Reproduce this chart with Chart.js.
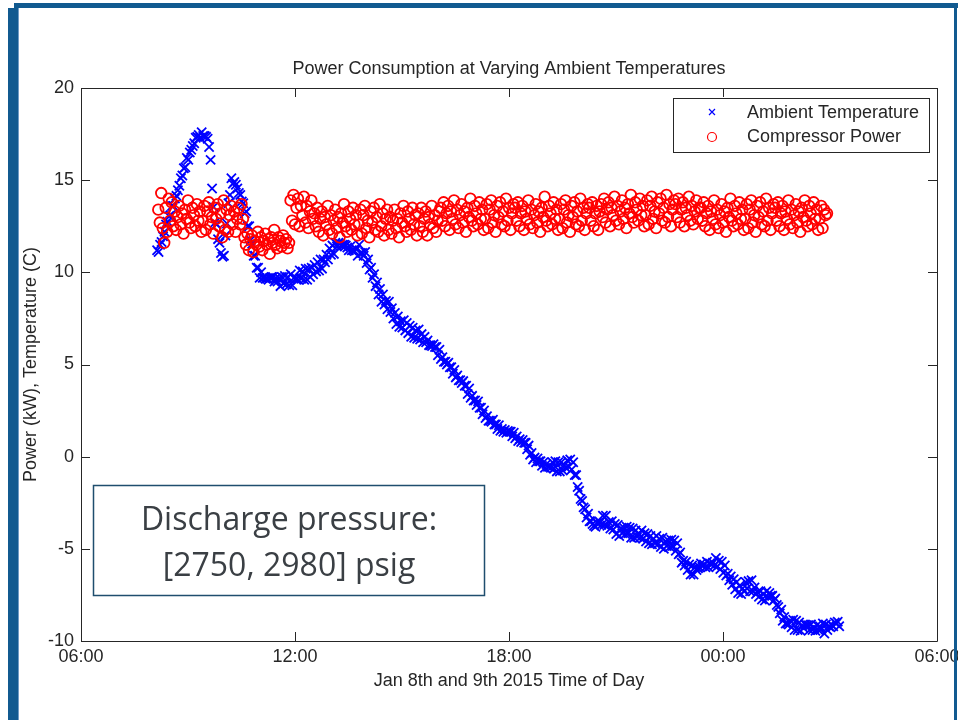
<!DOCTYPE html>
<html lang="en">
<head>
<meta charset="UTF-8">
<title>Power Consumption at Varying Ambient Temperatures</title>
<script src="https://cdn.jsdelivr.net/npm/chart.js@4.4.1/dist/chart.umd.min.js"></script>
<style>
    body { margin: 0; background: #fff; }
    #wrap { width: 958px; height: 720px; }
</style>
</head>
<body>
<div id="wrap"><canvas id="powerChart" width="958" height="720"></canvas></div>
<script>
// Ambient temperature (C), a reading every 2.5 min starting 08:08 on Jan 8th
const ambientStart = 8 + 8 / 60;
const ambientStepMin = 2.5;
const ambientTemp = [
    11.2, 11.1, 11.5, 11.65, 11.95, 12.2, 12.6, 12.75, 13.05, 13.1,
    13.6, 13.6, 14.0, 14.15, 14.45, 14.7, 15.1, 15.25, 15.65, 15.7,
    16.2, 16.1, 16.5, 16.65, 16.85, 17.0, 17.3, 17.35, 17.45, 17.3,
    17.6, 17.4, 17.4, 17.35, 17.25, 16.8, 16.1, 14.55, 13.55, 12.7,
    12.6, 11.8, 11.6, 11.05, 10.85, 10.9, 12.0, 12.65, 13.75, 14.2,
    15.1, 14.8, 14.9, 14.75, 14.55, 14.3, 14.2, 13.85, 13.75, 13.2,
    13.3, 12.5, 12.5, 11.75, 11.55, 10.9, 10.9, 10.25, 10.25, 9.7,
    10.0, 9.7, 9.7, 9.65, 9.65, 9.6, 9.7, 9.75, 9.75, 9.5,
    9.7, 9.5, 9.7, 9.25, 9.75, 9.4, 9.8, 9.35, 9.75, 9.3,
    9.9, 9.3, 9.7, 9.65, 9.65, 9.6, 10.1, 9.65, 10.05, 9.6,
    10.2, 9.6, 10.2, 9.75, 10.25, 9.9, 10.4, 10.05, 10.55, 10.1,
    10.7, 10.2, 10.7, 10.55, 10.95, 10.7, 11.3, 10.95, 11.45, 11.0,
    11.6, 11.4, 11.6, 11.55, 11.45, 11.5, 11.5, 11.45, 11.35, 11.2,
    11.4, 11.2, 11.2, 11.15, 11.25, 10.9, 11.5, 11.05, 11.05, 10.9,
    11.1, 10.5, 10.7, 10.15, 10.25, 9.7, 9.9, 9.25, 9.45, 8.8,
    9.1, 8.4, 8.8, 8.25, 8.45, 8.0, 8.4, 7.85, 8.05, 7.5,
    7.8, 7.2, 7.6, 7.05, 7.35, 7.0, 7.4, 6.85, 7.25, 6.7,
    7.1, 6.5, 7.0, 6.45, 6.85, 6.4, 6.9, 6.35, 6.65, 6.2,
    6.5, 6.2, 6.3, 6.05, 6.05, 6.0, 6.1, 5.95, 5.95, 5.5,
    5.8, 5.3, 5.4, 5.15, 5.15, 5.0, 5.1, 4.85, 4.85, 4.5,
    4.7, 4.3, 4.4, 4.15, 4.15, 4.0, 4.1, 3.85, 3.85, 3.4,
    3.7, 3.2, 3.3, 3.05, 3.05, 2.8, 3.0, 2.65, 2.65, 2.3,
    2.5, 2.1, 2.2, 1.95, 1.95, 1.9, 2.0, 1.75, 1.75, 1.5,
    1.7, 1.4, 1.5, 1.35, 1.45, 1.3, 1.4, 1.35, 1.35, 1.1,
    1.3, 1.0, 1.1, 0.85, 0.95, 0.8, 0.9, 0.75, 0.75, 0.4,
    0.6, 0.1, 0.2, -0.15, -0.05, -0.3, -0.1, -0.25, -0.25, -0.5,
    -0.3, -0.6, -0.4, -0.55, -0.55, -0.6, -0.3, -0.65, -0.25, -0.8,
    -0.3, -0.8, -0.3, -0.75, -0.45, -0.6, -0.2, -0.55, -0.15, -0.7,
    -0.3, -1.0, -1.0, -1.65, -1.85, -2.3, -2.4, -2.75, -2.85, -3.3,
    -3.1, -3.5, -3.5, -3.65, -3.75, -3.8, -3.6, -3.65, -3.55, -3.7,
    -3.2, -3.7, -3.2, -3.75, -3.55, -3.9, -3.5, -3.95, -3.65, -4.2,
    -3.7, -4.3, -3.9, -4.15, -3.85, -4.2, -3.8, -4.15, -3.85, -4.4,
    -3.9, -4.4, -4.0, -4.35, -4.15, -4.4, -4.0, -4.45, -4.15, -4.6,
    -4.2, -4.7, -4.3, -4.75, -4.45, -4.7, -4.3, -4.75, -4.45, -4.9,
    -4.4, -5.0, -4.6, -4.85, -4.55, -4.9, -4.5, -4.85, -4.55, -5.1,
    -4.7, -5.3, -5.2, -5.75, -5.65, -5.9, -5.7, -6.15, -5.85, -6.4,
    -5.9, -6.4, -6.0, -6.15, -6.05, -6.0, -5.8, -5.95, -5.85, -6.0,
    -5.7, -6.0, -5.8, -5.85, -5.75, -5.9, -5.5, -5.95, -5.65, -6.1,
    -5.7, -6.3, -5.9, -6.45, -6.35, -6.7, -6.5, -6.95, -6.65, -7.2,
    -6.8, -7.4, -7.0, -7.45, -7.15, -7.3, -6.8, -7.15, -6.75, -7.3,
    -6.7, -7.3, -7.1, -7.45, -7.35, -7.6, -7.3, -7.75, -7.45, -7.8,
    -7.3, -7.6, -7.4, -7.55, -7.55, -7.8, -7.7, -8.05, -8.15, -8.5,
    -8.3, -8.9, -8.7, -9.05, -9.05, -9.1, -8.9, -9.25, -8.85, -9.4,
    -8.9, -9.4, -9.0, -9.45, -9.15, -9.3, -9.1, -9.15, -9.15, -9.4,
    -9.1, -9.4, -9.3, -9.45, -9.15, -9.4, -9.2, -9.35, -9.05, -9.6,
    -9.1, -9.4, -9.2, -9.25, -9.15, -9.2, -9.0, -9.05, -8.95, -9.2
];

// Compressor power (kW), a reading every 2.5 min starting 08:10
const powerStart = 8 + 10 / 60;
const powerStepMin = 2.5;
const compressorPower = [
    13.4, 12.7, 14.3, 12.4, 11.6, 13.5, 12.2, 14.0, 12.8, 13.8,
    12.5, 13.3, 12.3, 13.0, 13.6, 12.6, 13.2, 12.1, 13.4, 12.9,
    13.9, 12.7, 12.4, 13.5, 13.1, 12.5, 13.7, 12.8, 13.3, 12.2,
    12.8, 13.6, 12.3, 13.3, 13.8, 12.6, 13.0, 12.1, 13.5, 12.9,
    13.7, 12.5, 13.2, 11.9, 13.9, 12.3, 13.4, 12.2, 13.1, 13.6,
    12.6, 13.3, 12.2, 12.9, 13.5, 12.6, 13.7, 12.9,
    11.9, 11.5, 12.1, 11.2, 11.8, 12.0, 11.1, 11.7, 11.5, 12.2,
    11.4, 11.9, 11.2, 11.7, 12.1, 11.5, 11.8, 11.0, 11.9, 11.6,
    12.3, 11.5, 11.3, 11.9, 11.7, 11.4, 12.0, 11.6, 11.8, 11.3, 11.6,
    13.9, 12.8, 14.2, 12.6, 13.5, 14.0, 12.5, 13.6, 13.1, 14.1,
    12.7, 13.6, 12.4, 13.3, 13.9, 12.9,
    13.2, 12.5, 13.5, 12.2, 12.9, 13.3, 12.0, 13.0, 12.6, 13.6,
    12.3, 13.1, 12.1, 12.8, 13.4, 12.4, 13.0, 11.9, 13.2, 12.7,
    13.7, 12.5, 12.2, 13.3, 12.9, 12.3, 13.5, 12.6, 13.1, 12.0,
    12.6, 13.4, 12.1, 13.1, 13.6, 12.4, 12.8, 11.9, 13.3, 12.7,
    13.5, 12.3, 13.0, 12.2, 13.7, 12.5, 13.2, 12.0, 12.9, 13.4,
    12.3, 13.0, 12.1, 12.8, 13.4, 12.4, 12.9, 11.9, 13.2, 12.7,
    13.6, 12.5, 12.2, 13.3, 12.9, 12.3, 13.5, 12.6, 13.1, 12.0,
    13.2, 12.5, 13.5, 12.2, 12.9, 13.3, 12.0, 13.0, 12.6, 13.6,
    12.4, 13.1, 12.2, 12.8, 13.3,
    13.5, 12.8, 13.8, 12.5, 13.2, 13.6, 12.3, 13.3, 12.9, 13.9,
    12.6, 13.4, 12.4, 13.1, 13.7, 12.7, 13.3, 12.2, 13.5, 13.0,
    14.0, 12.8, 12.5, 13.6, 13.2, 12.6, 13.8, 12.9, 13.4, 12.3,
    12.9, 13.7, 12.4, 13.4, 13.9, 12.7, 13.1, 12.2, 13.6, 13.0,
    13.8, 12.6, 13.3, 12.5, 14.0, 12.8, 13.5, 12.3, 13.2, 13.7,
    13.5, 12.8, 13.8, 12.5, 13.2, 13.6, 12.3, 13.3, 12.9, 13.9,
    12.6, 13.4, 12.4, 13.1, 13.7, 12.7, 13.3, 12.2, 13.5, 13.0,
    14.1, 12.8, 12.5, 13.6, 13.2, 12.6, 13.8, 12.9, 13.4, 12.3,
    12.9, 13.7, 12.4, 13.4, 13.9, 12.7, 13.1, 12.2, 13.6, 13.0,
    13.8, 12.6, 13.3, 12.5, 14.0, 12.8, 13.5, 12.3, 13.2, 13.7,
    13.5, 12.8, 13.8, 12.5, 13.2, 13.6, 12.3, 13.3,
    13.7, 13.0, 14.0, 12.7, 13.4, 13.8, 12.5, 13.5, 13.1, 14.1,
    12.8, 13.6, 12.6, 13.3, 13.9, 12.9, 13.5, 12.4, 13.7, 13.2,
    14.2, 13.0, 12.7, 13.8, 13.4, 12.8, 14.0, 13.1, 13.6, 12.5,
    13.1, 13.9, 12.6, 13.6, 14.1, 12.9, 13.3, 12.4, 13.8, 13.2,
    14.0, 12.8, 13.5, 12.7, 14.2, 13.0, 13.7, 12.5, 13.4, 13.9,
    13.7, 13.0, 14.0, 12.7, 13.4, 13.8, 12.5, 13.5, 13.1, 14.1,
    12.8, 13.6, 12.6, 13.3, 13.9, 12.9, 13.5,
    13.5, 12.8, 13.8, 12.5, 13.2, 13.6, 12.3, 13.3, 12.9, 13.9,
    12.6, 13.4, 12.4, 13.1, 13.7, 12.7, 13.3, 12.2, 13.5, 13.0,
    14.0, 12.8, 12.5, 13.6, 13.2, 12.6, 13.8, 12.9, 13.4, 12.3,
    12.9, 13.7, 12.4, 13.4, 13.9, 12.7, 13.1, 12.2, 13.6, 13.0,
    13.8, 12.6, 13.3, 12.5, 14.0, 12.8, 13.5, 12.3, 13.2, 13.7,
    13.5, 12.8, 13.8, 12.5, 13.2, 13.6, 12.3, 13.3, 12.9, 13.9,
    12.6, 13.4, 12.4, 13.1, 13.7, 12.7, 13.3, 12.2, 13.5, 13.0,
    13.9, 12.8, 12.5, 13.6, 13.2, 12.6, 13.8, 12.9, 13.4, 12.3,
    12.9, 13.6, 12.4, 13.4, 13.1, 13.2
];

// axes: hours since midnight Jan 8th (24+ = Jan 9th)
const xTickHours = [6, 12, 18, 24, 30];
const xTickLabels = ['06:00', '12:00', '18:00', '00:00', '06:00'];
const yTickValues = [-10, -5, 0, 5, 10, 15, 20];

const chartTitle = 'Power Consumption at Varying Ambient Temperatures';
const textColor = '#262626';
const axisFont = { family: "'Liberation Sans', Arial, sans-serif", size: 18, weight: 'normal' };

function toPoints(start, stepMin, values) {
    return values.map((v, i) => ({ x: start + i * stepMin / 60, y: v }));
}

// MATLAB-like box with inward ticks, title, legend, note box and slide border
const matlabFrame = {
    id: 'matlabFrame',
    afterDraw(chart) {
        const { ctx, chartArea: a } = chart;
        const xs = chart.scales.x;
        const ys = chart.scales.y;
        ctx.save();

        // axes box + ticks
        ctx.strokeStyle = textColor;
        ctx.lineWidth = 1;
        ctx.beginPath();
        ctx.rect(Math.round(a.left) + 0.5, Math.round(a.top) + 0.5,
                 Math.round(a.right - a.left), Math.round(a.bottom - a.top));
        xTickHours.forEach(h => {
            const px = Math.round(xs.getPixelForValue(h)) + 0.5;
            ctx.moveTo(px, a.bottom); ctx.lineTo(px, a.bottom - 9);
            ctx.moveTo(px, a.top); ctx.lineTo(px, a.top + 9);
        });
        yTickValues.forEach(v => {
            const py = Math.round(ys.getPixelForValue(v)) + 0.5;
            ctx.moveTo(a.left, py); ctx.lineTo(a.left + 9, py);
            ctx.moveTo(a.right, py); ctx.lineTo(a.right - 9, py);
        });
        ctx.stroke();

        // title, centred over the axes
        ctx.fillStyle = textColor;
        ctx.font = "18px 'Liberation Sans', Arial, sans-serif";
        ctx.textAlign = 'center';
        ctx.textBaseline = 'middle';
        ctx.fillText(chartTitle, (a.left + a.right) / 2, a.top - 19);

        // legend
        const lx = a.right - 264, ly = a.top + 10;
        ctx.fillStyle = '#fff';
        ctx.fillRect(lx, ly, 256, 54);
        ctx.strokeRect(lx + 0.5, ly + 0.5, 256, 54);
        ctx.strokeStyle = '#0000ff';
        ctx.lineWidth = 1.2;
        ctx.beginPath();
        ctx.moveTo(lx + 36, ly + 11); ctx.lineTo(lx + 42, ly + 17);
        ctx.moveTo(lx + 42, ly + 11); ctx.lineTo(lx + 36, ly + 17);
        ctx.stroke();
        ctx.strokeStyle = '#ff0000';
        ctx.beginPath();
        ctx.arc(lx + 39, ly + 39, 4.5, 0, Math.PI * 2);
        ctx.stroke();
        ctx.fillStyle = textColor;
        ctx.textAlign = 'left';
        ctx.fillText('Ambient Temperature', lx + 74, ly + 15);
        ctx.fillText('Compressor Power', lx + 74, ly + 39);

        // note box
        ctx.fillStyle = '#fff';
        ctx.fillRect(93, 485, 392, 111);
        ctx.strokeStyle = '#1f4e6e';
        ctx.lineWidth = 1.5;
        ctx.strokeRect(93.5, 485.5, 391, 110);
        ctx.fillStyle = '#3a3f44';
        ctx.font = "32px 'Open Sans', sans-serif";
        ctx.textAlign = 'center';
        ctx.textBaseline = 'alphabetic';
        ctx.fillText('Discharge pressure:', 289, 530);
        ctx.fillText('[2750, 2980] psig', 289, 576);

        // slide border
        ctx.fillStyle = '#115a90';
        ctx.fillRect(14, 3, 944, 5);
        ctx.fillRect(8, 8, 11, 712);
        ctx.fillRect(954, 8, 3, 712);
        ctx.fillStyle = '#6f9cc6';
        ctx.fillRect(18, 8, 1, 712);
        ctx.restore();
    }
};

new Chart(document.getElementById('powerChart'), {
    type: 'scatter',
    data: {
        datasets: [
            {
                label: 'Ambient Temperature',
                data: toPoints(ambientStart, ambientStepMin, ambientTemp),
                pointStyle: 'crossRot',
                pointRadius: 6.5,
                pointBorderColor: '#0000ff',
                pointBorderWidth: 1.8,
                order: 2
            },
            {
                label: 'Compressor Power',
                data: toPoints(powerStart, powerStepMin, compressorPower),
                pointStyle: 'circle',
                pointRadius: 5.3,
                pointBorderColor: '#ff0000',
                pointBackgroundColor: 'rgba(0,0,0,0)',
                pointBorderWidth: 1.8,
                order: 1
            }
        ]
    },
    options: {
        responsive: false,
        animation: false,
        layout: { padding: { left: 0, right: 21, top: 88, bottom: 0 } },
        plugins: {
            legend: { display: false },
            tooltip: { enabled: false }
        },
        scales: {
            x: {
                type: 'linear',
                min: 6,
                max: 30,
                grid: { display: false, drawTicks: false },
                border: { display: false },
                afterBuildTicks: s => { s.ticks = xTickHours.map(v => ({ value: v })); },
                afterFit: s => { s.height = 79; s.paddingLeft = 0; s.paddingRight = 0; },
                ticks: {
                    callback: v => xTickLabels[xTickHours.indexOf(v)],
                    color: textColor,
                    font: axisFont,
                    padding: 5,
                    maxRotation: 0,
                    autoSkip: false
                },
                title: {
                    display: true,
                    text: 'Jan 8th and 9th 2015 Time of Day',
                    color: textColor,
                    font: axisFont,
                    padding: { top: 0, bottom: 28 }
                }
            },
            y: {
                min: -10,
                max: 20,
                grid: { display: false, drawTicks: false },
                border: { display: false },
                afterBuildTicks: s => { s.ticks = yTickValues.map(v => ({ value: v })); },
                afterFit: s => { s.width = 81; s.paddingTop = 0; s.paddingBottom = 0; },
                ticks: { color: textColor, font: axisFont, padding: 7 },
                title: {
                    display: true,
                    text: 'Power (kW), Temperature (C)',
                    color: textColor,
                    font: axisFont,
                    padding: { top: 20, bottom: 0 }
                }
            }
        }
    },
    plugins: [matlabFrame]
});
</script>
</body>
</html>
